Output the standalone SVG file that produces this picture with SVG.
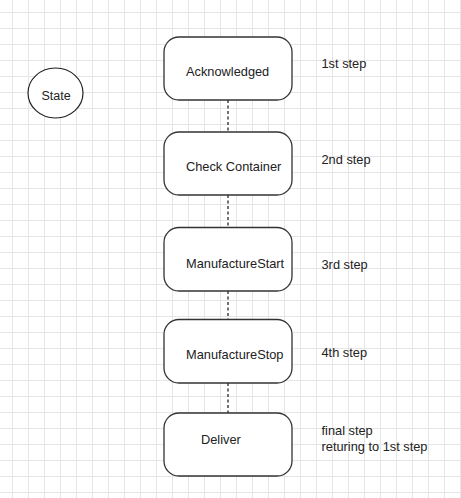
<svg xmlns="http://www.w3.org/2000/svg" width="461" height="498" viewBox="0 0 461 498">
<defs>
<pattern id="grid" x="12" y="12" width="16" height="16" patternUnits="userSpaceOnUse">
<path d="M0.5 0V16M0 0.5H16" fill="none" stroke="#e6e6e6" stroke-width="1"/>
</pattern>
<style>
.box{fill:#ffffff;stroke:#333333;stroke-width:1.3}
.t{font-family:"Liberation Sans",Arial,sans-serif;font-size:12.8px;fill:#222222}
.lbl{font-family:"Liberation Sans",Arial,sans-serif;font-size:12.8px;fill:#222222}
.con{stroke:#707070;stroke-width:2;stroke-dasharray:3 2.5;fill:none}
</style>
</defs>
<rect width="461" height="498" fill="#ffffff"/>
<rect width="461" height="498" fill="url(#grid)"/>
<g id="connectors">
<line class="con" x1="228" y1="100" x2="228" y2="132"/>
<line class="con" x1="228" y1="195" x2="228" y2="227"/>
<line class="con" x1="228" y1="291" x2="228" y2="319"/>
<line class="con" x1="228" y1="383" x2="228" y2="413"/>
</g>
<g id="state">
<ellipse cx="55.5" cy="93" rx="27.5" ry="25" fill="#ffffff" stroke="#222222" stroke-width="1.2"/>
<text class="t" x="56" y="100" text-anchor="middle" style="font-size:12.5px">State</text>
</g>
<g id="acknowledged">
<rect class="box" x="164" y="37" width="128" height="63" rx="15" ry="15"/>
<text class="t" x="186" y="76">Acknowledged</text>
</g>
<g id="check-container">
<rect class="box" x="164" y="132" width="128" height="63" rx="15" ry="15"/>
<text class="t" x="186" y="171">Check Container</text>
</g>
<g id="manufacture-start">
<rect class="box" x="164" y="227.5" width="128" height="63.5" rx="15" ry="15"/>
<text class="t" x="186" y="267.5">ManufactureStart</text>
</g>
<g id="manufacture-stop">
<rect class="box" x="164" y="319.5" width="128" height="63.5" rx="15" ry="15"/>
<text class="t" x="186" y="359">ManufactureStop</text>
</g>
<g id="deliver">
<rect class="box" x="164" y="413" width="128" height="63" rx="15" ry="15"/>
<text class="t" x="201" y="444">Deliver</text>
</g>
<g id="labels">
<text class="lbl" x="321.5" y="68">1st step</text>
<text class="lbl" x="321.5" y="164">2nd step</text>
<text class="lbl" x="321.5" y="268.5">3rd step</text>
<text class="lbl" x="321.5" y="356.5">4th step</text>
<text class="lbl" x="321.5" y="435">final step</text>
<text class="lbl" x="321.5" y="451">returing to 1st step</text>
</g>
</svg>
